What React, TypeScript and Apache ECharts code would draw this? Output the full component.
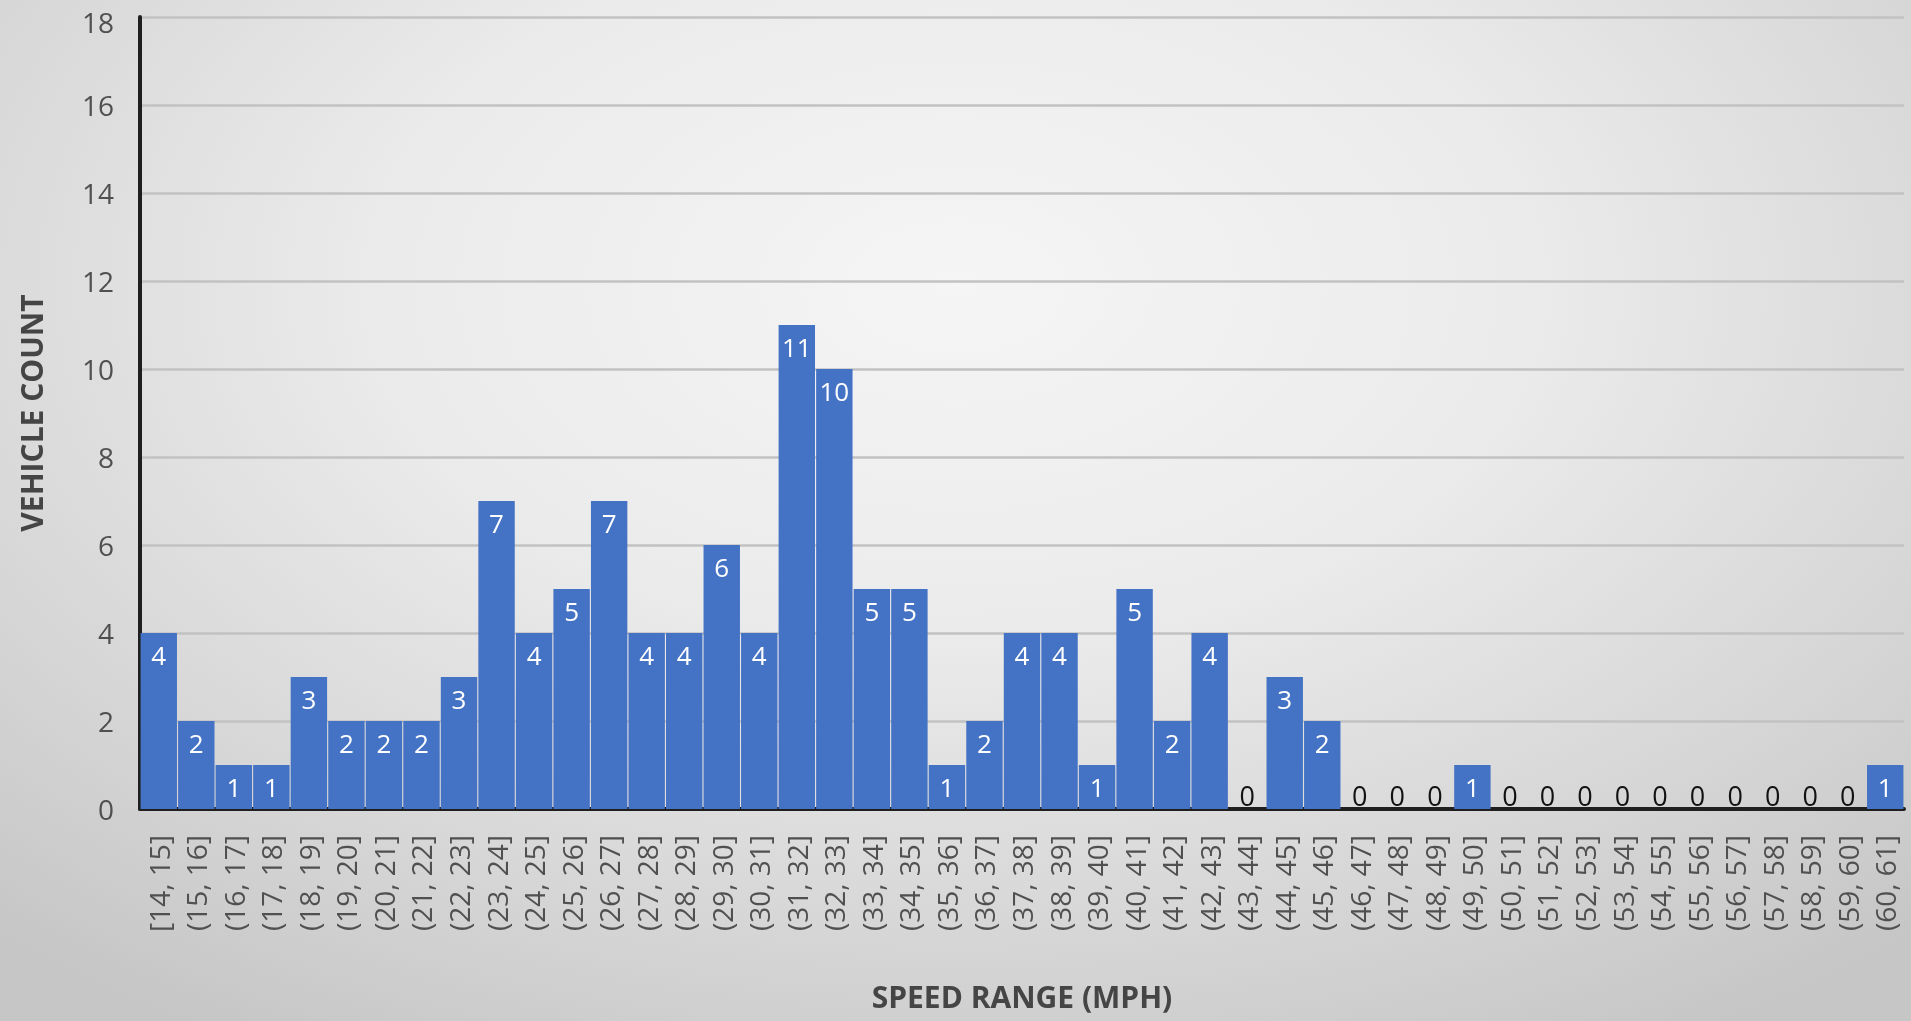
import React, { useEffect, useRef } from "react";
import * as echarts from "echarts";

const categories = [
  "[14, 15]", "(15, 16]", "(16, 17]", "(17, 18]", "(18, 19]", "(19, 20]", "(20, 21]", "(21, 22]",
  "(22, 23]", "(23, 24]", "(24, 25]", "(25, 26]", "(26, 27]", "(27, 28]", "(28, 29]", "(29, 30]",
  "(30, 31]", "(31, 32]", "(32, 33]", "(33, 34]", "(34, 35]", "(35, 36]", "(36, 37]", "(37, 38]",
  "(38, 39]", "(39, 40]", "(40, 41]", "(41, 42]", "(42, 43]", "(43, 44]", "(44, 45]", "(45, 46]",
  "(46, 47]", "(47, 48]", "(48, 49]", "(49, 50]", "(50, 51]", "(51, 52]", "(52, 53]", "(53, 54]",
  "(54, 55]", "(55, 56]", "(56, 57]", "(57, 58]", "(58, 59]", "(59, 60]", "(60, 61]",
];

const vehicleCounts = [
  4, 2, 1, 1, 3, 2, 2, 2, 3, 7, 4, 5, 7, 4, 4, 6, 4, 11, 10, 5, 5, 1, 2, 4, 4, 1, 5, 2, 4, 0,
  3, 2, 0, 0, 0, 1, 0, 0, 0, 0, 0, 0, 0, 0, 0, 0, 1,
];

const yMin = 0;
const yMax = 18;
const yInterval = 2;

const xAxisTitle = "SPEED RANGE (MPH)";
const yAxisTitle = "VEHICLE COUNT";

const FONT = "'Open Sans', 'Noto Sans', sans-serif";
const TICK_COLOR = "#505050";

export default function App() {
  const ref = useRef<HTMLDivElement>(null);

  useEffect(() => {
    if (!ref.current) return;
    const chart = echarts.init(ref.current, undefined, { renderer: "svg" });

    const data = vehicleCounts.map((v) => ({
      value: v,
      label:
        v === 0
          ? { position: "top", distance: 0, color: "#111111", fontSize: 27 }
          : { position: "insideTop", distance: 9, color: "#ffffff" },
    }));

    chart.setOption({
      animation: false,
      backgroundColor: "transparent",
      textStyle: { fontFamily: FONT },
      grid: {
        left: 140,
        right: 7,
        top: 17,
        bottom: 212,
        containLabel: false,
        outerBoundsMode: "none",
      },
      xAxis: {
        type: "category",
        data: categories,
        name: xAxisTitle,
        nameLocation: "middle",
        nameGap: 172,
        nameTextStyle: {
          fontFamily: FONT,
          fontSize: 30,
          fontWeight: "bold",
          color: "#454545",
        },
        axisLine: { show: true, lineStyle: { color: "#1f1f1f", width: 4 } },
        axisTick: { show: false },
        axisLabel: {
          interval: 0,
          rotate: 90,
          margin: 26,
          fontFamily: FONT,
          fontSize: 28,
          color: TICK_COLOR,
        },
        splitLine: { show: false },
      },
      yAxis: {
        type: "value",
        min: yMin,
        max: yMax,
        interval: yInterval,
        name: yAxisTitle,
        nameLocation: "middle",
        nameRotate: 90,
        nameGap: 94,
        nameTextStyle: {
          fontFamily: FONT,
          fontSize: 30,
          fontWeight: "bold",
          color: "#454545",
        },
        axisLine: { show: true, lineStyle: { color: "#1f1f1f", width: 4 } },
        axisTick: { show: false },
        axisLabel: {
          margin: 26,
          fontFamily: FONT,
          fontSize: 28,
          color: TICK_COLOR,
          formatter: (v: number) => (v === yMax ? `{t|${v}}` : `${v}`),
          rich: {
            t: {
              fontFamily: FONT,
              fontSize: 28,
              color: TICK_COLOR,
              padding: [9, 0, 0, 0],
            },
          },
        },
        splitLine: { show: true, lineStyle: { color: "#c2c2c2", width: 2.5 } },
      },
      series: [
        {
          type: "bar",
          data,
          barCategoryGap: "3%",
          itemStyle: { color: "#4472c4" },
          label: {
            show: true,
            fontFamily: FONT,
            fontSize: 26,
          },
        },
      ],
    });

    return () => chart.dispose();
  }, []);

  return (
    <div
      style={{
        position: "fixed",
        left: 0,
        top: 0,
        width: 1911,
        height: 1021,
        background:
          "radial-gradient(ellipse 75% 85% at 50% 28%, #f5f5f5 0%, #ebebeb 40%, #d6d6d6 75%, #c6c6c6 100%)",
      }}
    >
      <div ref={ref} style={{ width: 1911, height: 1021 }} />
    </div>
  );
}
